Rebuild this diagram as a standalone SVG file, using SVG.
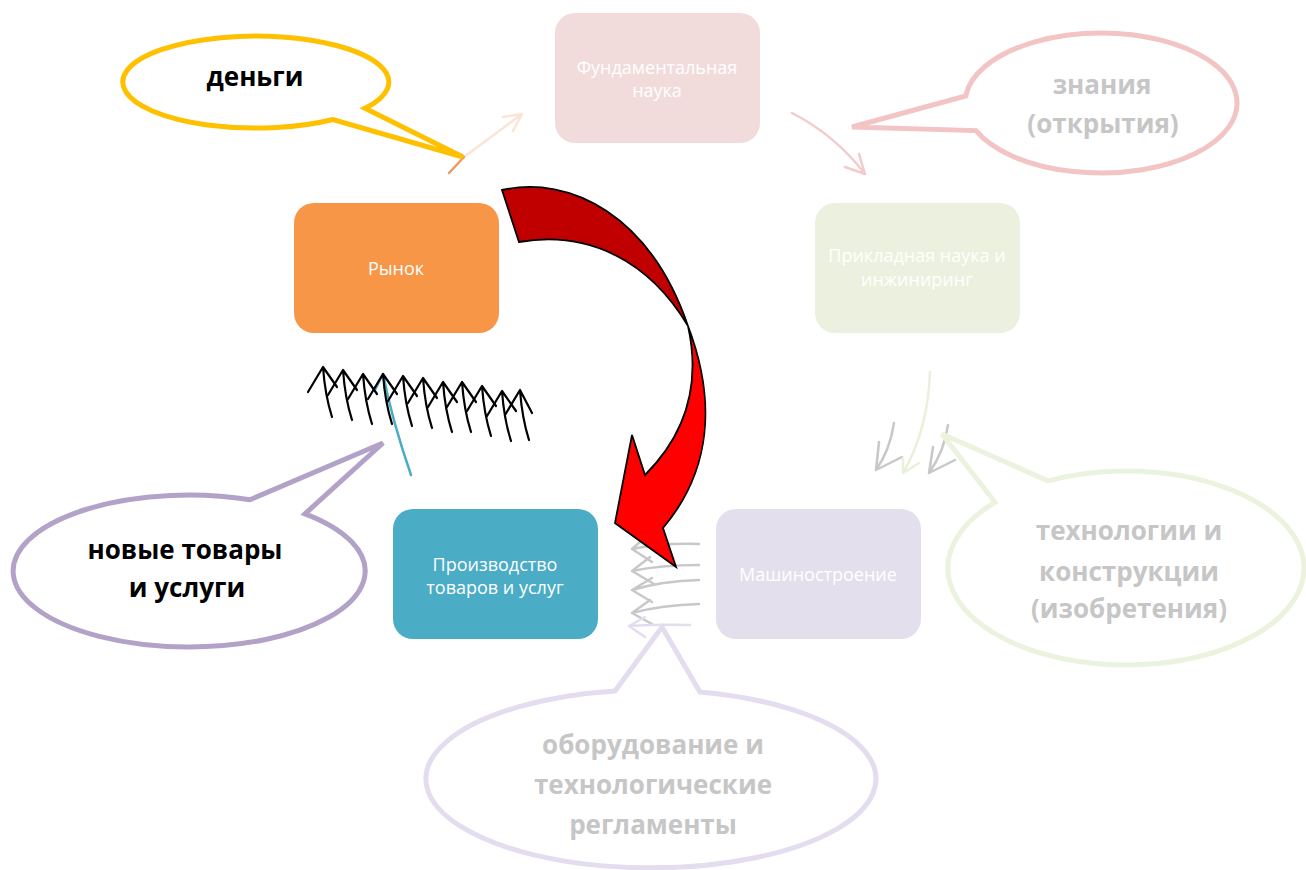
<svg xmlns="http://www.w3.org/2000/svg" width="1306" height="870" viewBox="0 0 1306 870">
<style>
.node-text{font-family:"Open Sans","Noto Sans",sans-serif;font-size:18px;fill:#ffffff;text-anchor:middle}
.call{fill:#ffffff;stroke-width:5;stroke-linejoin:miter}
.ctext{font-family:"Open Sans","Noto Sans",sans-serif;font-size:26px;font-weight:bold;text-anchor:middle}
.dark{fill:#000000}
.gray{fill:#c6c6c6}
.ln{fill:none;stroke-width:2.5;stroke-linecap:round;stroke-linejoin:round}
</style>
<rect width="1306" height="870" fill="#ffffff"/>

<g id="connectors">
  <!-- Рынок -> Фундаментальная наука -->
  <path class="ln" d="M464,157 L522,114 M503,117 L522,114 L513,131" stroke="#fbe5d6"/>
  <path class="ln" d="M449,173 L464,157" stroke="#ee9a60"/>
  <!-- Фундаментальная -> Прикладная -->
  <path class="ln" d="M792,113 Q835,135 865,174 M859,154 L865,174 L845,167" stroke="#f2cccc"/>
  <!-- Прикладная -> Машиностроение (faded + ghost arrows) -->
  <path class="ln" d="M894,423 Q890,450 876,470 M879,442 L876,470 L902,457" stroke="#c8c8c8"/>
  <path class="ln" d="M948,425 Q944,452 929,473 M933,447 L929,473 L955,460" stroke="#c8c8c8"/>
  <path class="ln" d="M930,372 Q928,430 903,473 M903,458 L903,473 L919,463" stroke="#e9f0dc"/>
  <!-- Машиностроение -> Производство (ghost arrows) -->
  <path class="ln" d="M699,544 Q660,543 632,549 M648,535 L632,549 L652,562" stroke="#c8c8c8"/>
  <path class="ln" d="M699,565 Q660,565 632,571 M650,557 L632,571 L654,584" stroke="#c8c8c8"/>
  <path class="ln" d="M699,580 Q662,581 632,590 M652,578 L632,590 L652,602" stroke="#c8c8c8"/>
  <path class="ln" d="M699,604 Q662,605 632,613 M650,600 L632,613 L652,624" stroke="#c8c8c8"/>
  <path class="ln" d="M690,625 Q660,624 629,626 M645,617 L629,626 L645,637" stroke="#e4dcef"/>
  <!-- Производство -> Рынок -->
  <path class="ln" d="M411,475 Q392,420 383,374 L375,390" stroke="#4bacc6"/>
  <g id="black-arrows" fill="none" stroke="#000000" stroke-width="2.2" stroke-linecap="round" stroke-linejoin="round">
    <path d="M308,392 L323,367 L337,387 M323,367 Q325,395 332,417"/>
    <path d="M328,395 L343,370 L357,390 M343,370 Q345,398 352,420"/>
    <path d="M348,399 L363,374 L377,394 M363,374 Q365,402 372,424"/>
    <path d="M368,399 L383,374 L397,394 M383,374 Q385,402 392,424"/>
    <path d="M388,401 L403,376 L417,396 M403,376 Q405,404 412,426"/>
    <path d="M408,403 L423,378 L437,398 M423,378 Q425,406 432,428"/>
    <path d="M428,407 L443,382 L457,402 M443,382 Q445,410 452,432"/>
    <path d="M447,407 L462,382 L476,402 M462,382 Q464,410 471,432"/>
    <path d="M467,411 L482,386 L496,406 M482,386 Q484,414 491,436"/>
    <path d="M487,416 L502,391 L516,411 M502,391 Q504,419 511,441"/>
    <path d="M505,415 L520,390 L532,413 M520,390 Q522,418 529,440"/>
  </g>
  <!-- Big red curved arrow -->
  <g id="red-arrow" stroke="#000000" stroke-width="1.8" stroke-linejoin="miter">
    <path d="M502,190 C570,175 650,215 688,326 C650,262 590,230 519,242 Z" fill="#c00000"/>
    <path d="M688,326 C716,400 712,470 663,528 L676,567 L615,523 L632,435 L645,475 C690,430 700,380 688,326 Z" fill="#ff0000"/>
  </g>
</g>

<g id="node-fundamental">
  <rect x="555" y="13" width="205" height="130" rx="20" fill="#f2dcdb"/>
  <text class="node-text" x="657" y="74">Фундаментальная</text>
  <text class="node-text" x="657" y="97">наука</text>
</g>
<g id="node-applied">
  <rect x="815" y="203" width="205" height="130" rx="20" fill="#ebf1de"/>
  <text class="node-text" x="917" y="262">Прикладная наука и</text>
  <text class="node-text" x="917" y="286">инжиниринг</text>
</g>
<g id="node-machine">
  <rect x="716" y="509" width="205" height="130" rx="20" fill="#e4dfec"/>
  <text class="node-text" x="818" y="581">Машиностроение</text>
</g>
<g id="node-production">
  <rect x="393" y="509" width="205" height="130" rx="20" fill="#4bacc6"/>
  <text class="node-text" x="495" y="571">Производство</text>
  <text class="node-text" x="495" y="594">товаров и услуг</text>
</g>
<g id="node-market">
  <rect x="294" y="203" width="205" height="130" rx="20" fill="#f79646"/>
  <text class="node-text" x="396" y="275">Рынок</text>
</g>

<g id="callout-money">
  <path class="call" stroke="#ffc000" d="M365,108.3 A133,46 0 1 0 333,119.5 L463,157 Z"/>
  <text class="ctext dark" x="255" y="86">деньги</text>
</g>
<g id="callout-knowledge">
  <path class="call" stroke="#f2c4c4" d="M965.7,96 A136,70 0 1 1 976,130.6 L852,127 Z"/>
  <text class="ctext gray" x="1102" y="94">знания</text>
  <text class="ctext gray" x="1103" y="133">(открытия)</text>
</g>
<g id="callout-tech">
  <path class="call" stroke="#ebf3de" d="M1048,480.8 A178,97 0 1 1 995,502.3 L942,434 Z"/>
  <text class="ctext gray" x="1129" y="540">технологии и</text>
  <text class="ctext gray" x="1129" y="581">конструкции</text>
  <text class="ctext gray" x="1129" y="618">(изобретения)</text>
</g>
<g id="callout-equipment">
  <path class="call" stroke="#e4dcef" d="M700,692 A225,89 0 1 1 615,691 L662,627 Z"/>
  <text class="ctext gray" x="653" y="754">оборудование и</text>
  <text class="ctext gray" x="653" y="794">технологические</text>
  <text class="ctext gray" x="653" y="834">регламенты</text>
</g>
<g id="callout-goods">
  <path class="call" stroke="#b2a2c7" d="M250,499.7 A176,76 0 1 0 305,513.8 L383,443 Z"/>
  <text class="ctext dark" x="185" y="559">новые товары</text>
  <text class="ctext dark" x="187" y="597">и услуги</text>
</g>
</svg>
